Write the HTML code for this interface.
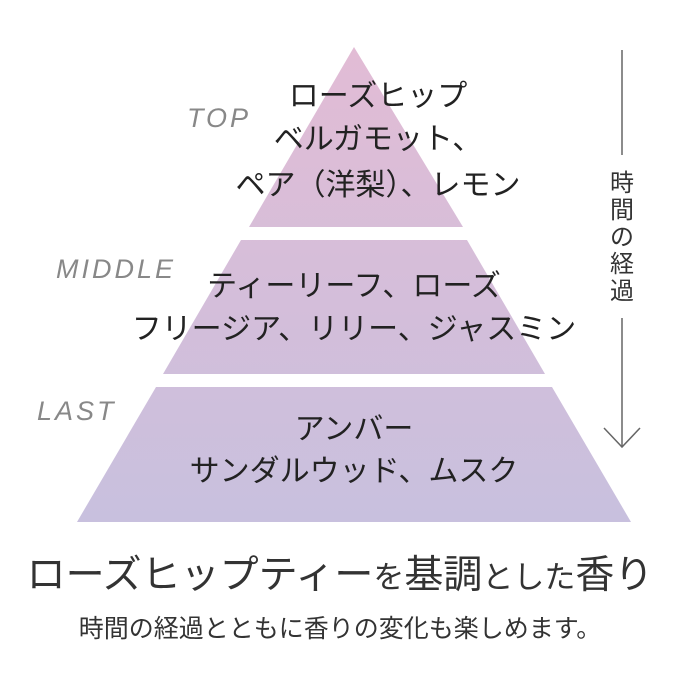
<!DOCTYPE html>
<html><head><meta charset="utf-8"><style>
body{margin:0;width:680px;height:680px;background:#fff;overflow:hidden;font-family:"Liberation Sans","Noto Sans CJK JP",sans-serif;}
.t{position:absolute;left:0;width:708px;text-align:center;color:#222;font-size:30px;line-height:1;white-space:nowrap}
.l{position:absolute;font-style:italic;color:#888;font-size:27px;font-weight:300;letter-spacing:3px}
</style></head><body>
<svg width="680" height="680" style="position:absolute;left:0;top:0">
<defs><linearGradient id="g" x1="0" y1="47" x2="0" y2="522" gradientUnits="userSpaceOnUse">
<stop offset="0" stop-color="#e2bcd5"/><stop offset="1" stop-color="#c8c0de"/></linearGradient></defs>
<polygon points="354,47 463,227 249,227" fill="url(#g)"/>
<polygon points="241,240 467,240 545,374 163,374" fill="url(#g)"/>
<polygon points="156,387 552,387 631,522 77,522" fill="url(#g)"/>
<line x1="622" y1="50" x2="622" y2="155" stroke="#666" stroke-width="1.5"/>
<line x1="622" y1="318" x2="622" y2="447" stroke="#666" stroke-width="1.5"/>
<polyline points="604,428 622,447 640,428" fill="none" stroke="#666" stroke-width="1.5"/>
</svg>
<div style="position:absolute;left:609px;top:170px;width:26px;font-size:24px;line-height:27px;color:#333;text-align:center">時<br>間<br>の<br>経<br>過</div>
<div class="l" style="left:187px;top:103px">TOP</div>
<div class="l" style="left:56px;top:254px">MIDDLE</div>
<div class="l" style="left:37px;top:396px">LAST</div>
<div class="t" style="left:24px;top:82px">ローズヒップ</div>
<div class="t" style="left:24px;top:125px">ベルガモット、</div>
<div class="t" style="left:24px;top:171px">ペア（洋梨）、レモン</div>
<div class="t" style="top:272px">ティーリーフ、ローズ</div>
<div class="t" style="top:315px">フリージア、リリー、ジャスミン</div>
<div class="t" style="top:415px">アンバー</div>
<div class="t" style="top:457px">サンダルウッド、ムスク</div>
<div style="position:absolute;left:0;width:680px;top:556px;text-align:center;font-size:39px;color:#333;white-space:nowrap;line-height:1">ローズヒップティー<span style="font-size:31px">を</span>基調<span style="font-size:31px">とした</span>香り</div>
<div style="position:absolute;left:0;width:680px;top:617px;text-align:center;font-size:25px;color:#333;white-space:nowrap;line-height:1">時間の経過とともに香りの変化も楽しめます。</div>
</body></html>
